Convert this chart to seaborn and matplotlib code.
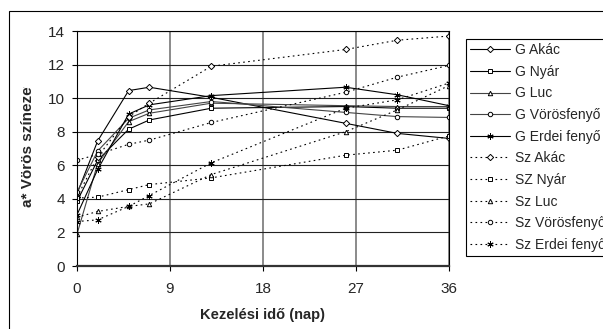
import matplotlib
matplotlib.use("Agg")
import matplotlib.pyplot as plt
import matplotlib.patches as mpatches
from matplotlib.transforms import Bbox
import seaborn as sns
import pandas as pd

# kezelési napok
nap = [0, 2, 5, 7, 13, 26, 31, 36]

# a* értékek, leolvasva
g_akac = [4.3, 7.45, 10.45, 10.65, 10.05, 8.5, 7.9, 7.6]
g_nyar = [3.85, 6.3, 8.15, 8.7, 9.4, 9.5, 9.4, 9.4]
g_luc = [1.9, 6.1, 8.6, 9.1, 9.7, 9.55, 9.5, 9.5]
g_vorosfenyo = [4.4, 6.85, 8.8, 9.3, 9.8, 9.15, 8.9, 8.85]
g_erdeifenyo = [3.05, 5.75, 9.05, 9.6, 10.15, 10.65, 10.2, 9.55]
sz_akac = [4.1, 6.5, 8.9, 9.7, 11.9, 12.9, 13.45, 13.7]
sz_nyar = [4.05, 4.1, 4.55, 4.85, 5.25, 6.6, 6.9, 7.75]
sz_luc = [2.9, 3.25, 3.55, 3.7, 5.45, 8.0, 9.3, 10.75]
sz_vorosfenyo = [6.3, 6.65, 7.25, 7.5, 8.55, 10.35, 11.25, 11.95]
sz_erdeifenyo = [2.65, 2.75, 3.55, 4.2, 6.15, 9.4, 9.9, 10.9]

nevek = ["G Akác", "G Nyár", "G Luc", "G Vörösfenyő", "G Erdei fenyő",
         "Sz Akác", "SZ Nyár", "Sz Luc", "Sz Vörösfenyő", "Sz Erdei fenyő"]
sorok = [g_akac, g_nyar, g_luc, g_vorosfenyo, g_erdeifenyo,
         sz_akac, sz_nyar, sz_luc, sz_vorosfenyo, sz_erdeifenyo]

df = pd.concat([pd.DataFrame({"nap": nap, "a": v, "sorozat": n})
                for n, v in zip(nevek, sorok)], ignore_index=True)

jelolok = ["D", "s", "^", "o", (6, 2, 0)] * 2

sns.set_style("white")
plt.rcParams["font.family"] = ["Liberation Sans", "DejaVu Sans"]

fig = plt.figure(figsize=(6.03, 3.29), dpi=100)
ax = fig.add_axes([77 / 603, 1 - 266 / 329, 372 / 603, 235 / 329])

for n, m in zip(nevek, jelolok):
    sub = df[df["sorozat"] == n]
    szin = "#444444" if n in ("G Luc", "G Vörösfenyő") else "black"
    vonal = "-" if n.startswith("G") else (0, (1.5, 3))
    meret = 5.2 if isinstance(m, tuple) else 3.8
    sns.lineplot(data=sub, x="nap", y="a", ax=ax, label=n, color=szin,
                 linestyle=vonal, linewidth=0.8, marker=m, markersize=meret,
                 markerfacecolor="white", markeredgewidth=0.7,
                 markeredgecolor="black")

ax.set_xlim(0, 36)
ax.set_ylim(0, 14)
ax.set_xticks([0, 9, 18, 27, 36])
ax.set_yticks(range(0, 15, 2))
ax.grid(axis="y", color="#222222", linewidth=0.8)
ax.grid(axis="x", color="#777777", linewidth=1.2)
ax.set_axisbelow(True)
for s in ax.spines.values():
    s.set_color("black")
    s.set_linewidth(0.8)
ax.spines["bottom"].set_linewidth(1.6)
ax.spines["bottom"].set_color("#333333")
ax.tick_params(axis="both", direction="out", length=3.5, width=0.8,
               color="black", labelsize=11, pad=5)
ax.tick_params(axis="x", bottom=True, pad=8)
ax.tick_params(axis="y", left=True)
ax.set_xlabel("Kezelési idő (nap)", fontsize=10.5, fontweight="bold",
              labelpad=9)
ax.set_ylabel("")

# y felirat, felül levágva mint az eredetin
yl = fig.text(28 / 603, 1 - 207 / 329, "a* Vörös színezet", rotation=90,
              ha="center", va="bottom", fontsize=11, fontweight="bold")
yl.set_clip_box(Bbox.from_extents(0, 0, 603, 329 - 87))
yl.set_clip_on(True)

handles, labels = ax.get_legend_handles_labels()
ax.get_legend().remove()
for h in handles:
    h.set_markersize(3.2 if h.get_marker() != (6, 2, 0) else 4.5)
fig.legend(handles, labels, loc="upper left",
           bbox_to_anchor=(466 / 603, 1 - 39 / 329), borderaxespad=0,
           fontsize=10, frameon=True, fancybox=False, edgecolor="black",
           handlelength=2.9, handletextpad=0.35, labelspacing=0.55,
           borderpad=0.3, framealpha=1)
fig.legends[0].get_frame().set_linewidth(0.8)

# külső keret
fig.add_artist(mpatches.Rectangle((9 / 603, -0.1), 1.0, 0.1 + (329 - 11) / 329,
                                  fill=False, edgecolor="black", linewidth=0.8,
                                  transform=fig.transFigure))

fig.savefig("out.png", dpi=100)
